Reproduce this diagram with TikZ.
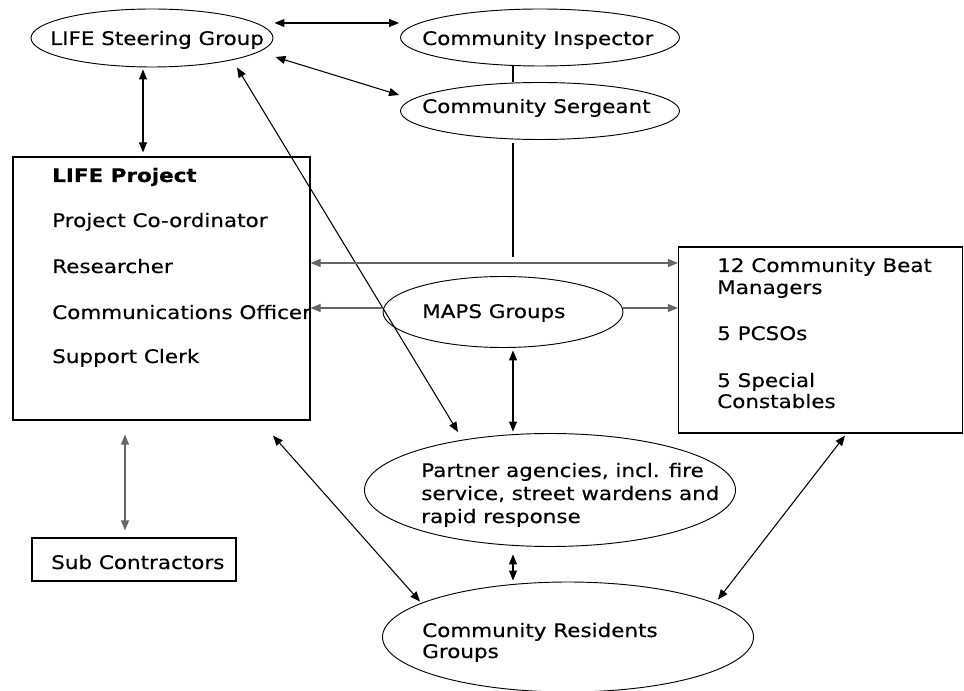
\documentclass[tikz,border=0pt]{standalone}
\usepackage{fontspec}
\setmainfont{DejaVu Sans}[FakeStretch=1.15,FakeBold=0.4]
\usetikzlibrary{shapes.geometric,arrows.meta}
\begin{document}
\begin{tikzpicture}[x=0.75pt,y=-0.75pt,
  font=\fontsize{14pt}{16.5pt}\selectfont,
  oval/.style={draw, ellipse, line width=0.7pt, inner sep=0pt},
  box/.style={draw, rectangle, line width=0.9pt, inner sep=0pt},
  txt/.style={anchor=base west, inner sep=0pt},
  tip/.tip={Triangle[length=7.5pt,width=6pt]},
  both/.style={line width=0.8pt, tip-tip},
  one/.style={line width=0.8pt, -tip},
  plain/.style={line width=0.8pt},
  grey/.style={draw=black!60}
]
\useasboundingbox (0,0) rectangle (964,691);

% shapes
\node[oval, minimum width={242*0.75pt}, minimum height={58*0.75pt}] (steer) at (152,38) {};
\node[oval, minimum width={279*0.75pt}, minimum height={57*0.75pt}] (insp) at (540,37.5) {};
\node[oval, minimum width={279*0.75pt}, minimum height={57*0.75pt}] (serg) at (540,111) {};
\node[box, minimum width={297*0.75pt}, minimum height={263*0.75pt}] (life) at (161.5,288.5) {};
\node[box, minimum width={284*0.75pt}, minimum height={186*0.75pt}] (beat) at (820.5,340) {};
\node[oval, minimum width={240*0.75pt}, minimum height={71*0.75pt}] (maps) at (503,312) {};
\node[oval, minimum width={371*0.75pt}, minimum height={113*0.75pt}] (partner) at (550,490) {};
\node[oval, minimum width={371*0.75pt}, minimum height={110*0.75pt}] (resid) at (568,637) {};
\node[box, minimum width={204*0.75pt}, minimum height={43*0.75pt}] (sub) at (134,559.5) {};

% texts
\node[txt] (tsteer) at (50,45) {LIFE Steering Group};
\node[txt] (tinsp) at (422,45) {Community Inspector};
\node[txt] (tserg) at (422,113) {Community Sergeant};
\node[txt] (tl1) at (52,182) {\bfseries LIFE Project};
\node[txt] (tl2) at (52,227) {Project Co-ordinator};
\node[txt] (tl3) at (52,273) {Researcher};
\node[txt] (tl4) at (52,319) {Communications Officer};
\node[txt] (tl5) at (52,363) {Support Clerk};
\node[txt] (tmaps) at (422,318) {MAPS Groups};
\node[txt] (tb1) at (717,272) {12 Community Beat};
\node[txt] (tb2) at (717,294) {Managers};
\node[txt] (tb3) at (717,340) {5 PCSOs};
\node[txt] (tb4) at (717,387) {5 Special};
\node[txt] (tb5) at (717,408) {Constables};
\node[txt] (tp1) at (421,477) {Partner agencies, incl. fire};
\node[txt] (tp2) at (421,500) {service, street wardens and};
\node[txt] (tp3) at (421,523) {rapid response};
\node[txt] (tr1) at (422,637) {Community Residents};
\node[txt] (tr2) at (422,658) {Groups};
\node[txt] (tsub) at (51,569) {Sub Contractors};

% connectors
\draw[both] ([shift={(1,-15)}]steer.east) -- ([shift={(-1,-14.5)}]insp.west);
\draw[both] ([shift={(2,19)}]steer.east) -- ([shift={(-1,-16)}]serg.west);
\draw[both] ([shift={(-9,2)}]steer.south) -- ([shift={(-18.5,-4)}]life.north);
\draw[both] ([shift={(85,0)}]steer.south) -- ([shift={(-92,-1)}]partner.north);
\draw[plain] ([shift={(-27,0)}]insp.south) -- ([shift={(-27,0)}]serg.north);
\draw[plain] ([shift={(-27,3.5)}]serg.south) -- ([shift={(10,-19.5)}]maps.north);
\draw[both,grey] ([shift={(0,-25.5)}]life.east) -- ([shift={(0,-77)}]beat.west);
\draw[one,grey] ([shift={(0,-4)}]maps.west) -- ([shift={(0,19.5)}]life.east);
\draw[one,grey] ([shift={(0,-4)}]maps.east) -- ([shift={(0,-32)}]beat.west);
\draw[both] ([shift={(10,2.5)}]maps.south) -- ([shift={(-37,-1.5)}]partner.north);
\draw[both,grey] ([shift={(-36.5,14)}]life.south) -- ([shift={(-9,-7)}]sub.north);
\draw[both] ([shift={(111.5,15)}]life.south) -- ([shift={(-148,20)}]resid.north);
\draw[both] ([shift={(-37,7.5)}]partner.south) -- ([shift={(-55,-1)}]resid.north);
\draw[both] ([shift={(24.5,2)}]beat.south) -- ([shift={(150,18)}]resid.north);
\end{tikzpicture}
\end{document}
